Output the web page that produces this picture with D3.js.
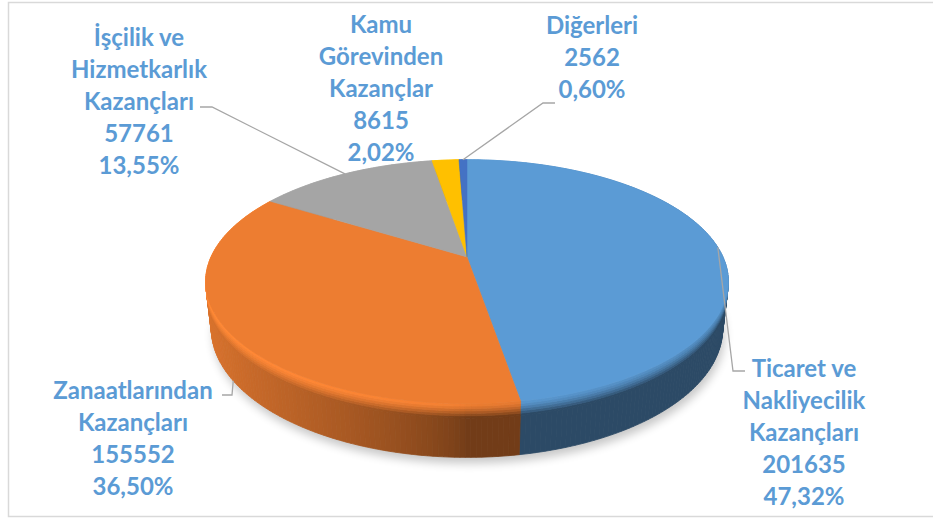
<!DOCTYPE html>
<html>
<head>
<meta charset="utf-8">
<script src="https://cdn.jsdelivr.net/npm/d3@7"></script>
<style>
  html, body { margin: 0; padding: 0; background: #fff; }
  svg { display: block; }
</style>
</head>
<body>
<div id="chart"></div>
<script>
// Chart data
var categoryLines = [
  ["Ticaret ve", "Nakliyecilik", "Kazançları"],
  ["Zanaatlarından", "Kazançları"],
  ["İşçilik ve", "Hizmetkarlık", "Kazançları"],
  ["Kamu", "Görevinden", "Kazançlar"],
  ["Diğerleri"]
];
var values = [201635, 155552, 57761, 8615, 2562];
var percentLabels = ["47,32%", "36,50%", "13,55%", "2,02%", "0,60%"];
var colors = ["#5B9BD5", "#ED7D31", "#A5A5A5", "#FFC000", "#4472C4"];

// Label placement (x = centre of text block, y = centre of first line)
var labelLayout = [
  { x: 804, y: 368, elbow: [733, 371], end: [745, 371] },
  { x: 133, y: 390, elbow: [232, 395], end: [222, 395] },
  { x: 139, y: 37, elbow: [212, 107], end: [200, 107] },
  { x: 381, y: 24, elbow: null, end: null },
  { x: 592, y: 25, elbow: [543, 103], end: [555, 103] }
];

var width = 933, height = 523;

// 3D view settings
var cx = 467, cy = 257;      // screen position of the pie centre
var R = 256;                 // pie radius
var thick = 53;              // pie thickness
var bevel = 14;              // soft bevel band at top of the side wall
var bevelSteps = 6;
var sinE = 0.457, cosE = Math.sqrt(1 - sinE * sinE);
var camDist = 1125;

// angle a: clockwise from the far side, r: radius, yw: height (0 = top face)
function project(a, r, yw) {
  var X = r * Math.sin(a), Z = r * Math.cos(a);
  var up = yw * cosE + Z * sinE;
  var dz = Z * cosE - yw * sinE;
  var f = camDist / (camDist + dz);
  return [cx + X * f, cy - up * f, dz];
}

function scaleColor(col, k) {
  var c = d3.rgb(col);
  return d3.rgb(Math.min(255, c.r * k), Math.min(255, c.g * k), Math.min(255, c.b * k)).formatHex();
}
// brightness of the outer wall, light coming from the left
function wallFactor(a) {
  var l = Math.max(0, -Math.sin(a));
  return 0.48 + 0.45 * Math.pow(l, 0.7);
}
function bevelFactor(a) {
  var s = Math.sin(a);
  return s < 0 ? 1 + 0.1 * Math.sqrt(-s) : 1 - 0.12 * Math.pow(s, 0.7);
}

var svg = d3.select("#chart")
  .append("svg")
  .attr("width", width)
  .attr("height", height);

// chart border
svg.append("rect")
  .attr("x", 8.5)
  .attr("y", 2.5)
  .attr("width", 940)
  .attr("height", 514)
  .attr("fill", "#fff")
  .attr("stroke", "#D9D9D9")
  .attr("stroke-width", 1.5);

var defs = svg.append("defs");
defs.append("filter")
  .attr("id", "shadowBlur")
  .attr("x", "-20%").attr("y", "-20%")
  .attr("width", "140%").attr("height", "140%")
  .append("feGaussianBlur")
  .attr("stdDeviation", 5);

var pie = d3.pie().sort(null).value(function (d) { return d; });
var slices = pie(values);

var line = d3.line();
var step = Math.PI / 360;

function arcPoints(a0, a1, r, yw) {
  var n = Math.max(2, Math.ceil((a1 - a0) / step));
  return d3.range(n + 1).map(function (i) {
    var p = project(a0 + (a1 - a0) * i / n, r, yw);
    return [p[0], p[1]];
  });
}

// soft shadow under the pie
svg.append("path")
  .attr("d", line(arcPoints(0, 2 * Math.PI, R, -thick)) + "Z")
  .attr("transform", "translate(2,6)")
  .attr("fill", "#000")
  .attr("opacity", 0.22)
  .attr("filter", "url(#shadowBlur)");

// side walls, built from thin quads sorted far to near
var quads = [];
slices.forEach(function (d, i) {
  var n = Math.max(1, Math.ceil((d.endAngle - d.startAngle) / (Math.PI / 180)));
  for (var k = 0; k < n; k++) {
    var a0 = d.startAngle + (d.endAngle - d.startAngle) * k / n;
    var a1 = d.startAngle + (d.endAngle - d.startAngle) * (k + 1) / n;
    var am = (a0 + a1) / 2;
    var wallCol = scaleColor(colors[i], wallFactor(am));
    var bevCol = scaleColor(colors[i], bevelFactor(am));
    var mix = d3.interpolateRgb(bevCol, wallCol);
    var bands = d3.range(bevelSteps).map(function (j) {
      var t = j / (bevelSteps - 1);
      return [-bevel * j / bevelSteps, -bevel * (j + 1) / bevelSteps, mix(Math.pow(t, 1.3))];
    });
    bands.push([-bevel, -thick, wallCol]);
    bands.forEach(function (b) {
      var p1 = project(a0, R, b[0]), p2 = project(a1, R, b[0]);
      var p3 = project(a1, R, b[1]), p4 = project(a0, R, b[1]);
      quads.push({
        pts: [p1, p2, p3, p4].map(function (p) { return [p[0], p[1]]; }),
        z: project(am, R, (b[0] + b[1]) / 2)[2],
        color: b[2]
      });
    });
  }
});
quads.sort(function (a, b) { return b.z - a.z; });

svg.append("g")
  .selectAll("path")
  .data(quads)
  .enter()
  .append("path")
  .attr("d", function (q) { return line(q.pts) + "Z"; })
  .attr("fill", function (q) { return q.color; })
  .attr("stroke", function (q) { return q.color; })
  .attr("stroke-width", 0.8)
  .attr("stroke-linejoin", "round");

// top faces
var centre = project(0, 0, 0);
svg.append("g")
  .selectAll("path")
  .data(slices)
  .enter()
  .append("path")
  .attr("d", function (d) {
    var pts = [[centre[0], centre[1]]].concat(arcPoints(d.startAngle, d.endAngle, R, 0));
    return line(pts) + "Z";
  })
  .attr("fill", function (d, i) { return colors[i]; })
  .attr("stroke", function (d, i) { return colors[i]; })
  .attr("stroke-width", 0.5);

// leader lines
svg.append("g")
  .selectAll("polyline")
  .data(slices.filter(function (d, i) { return labelLayout[i].elbow; }))
  .enter()
  .append("polyline")
  .attr("points", function (d) {
    var lay = labelLayout[d.index];
    var mid = (d.startAngle + d.endAngle) / 2;
    var p = Math.cos(mid) >= 0 ? project(mid, R, 0) : project(mid, R, -thick);
    return [[p[0], p[1]], lay.elbow, lay.end].join(" ");
  })
  .attr("fill", "none")
  .attr("stroke", "#A6A6A6")
  .attr("stroke-width", 1.3);

// data labels
var labels = svg.append("g")
  .selectAll("text")
  .data(slices)
  .enter()
  .append("text")
  .attr("text-anchor", "middle")
  .style("font-family", "Lato, 'Open Sans', sans-serif")
  .style("font-weight", "bold")
  .style("font-size", "24px")
  .attr("fill", "#5B9BD5");

labels.each(function (d, i) {
  var lay = labelLayout[i];
  var lines = categoryLines[i].concat([String(values[i]), percentLabels[i]]);
  d3.select(this)
    .selectAll("tspan")
    .data(lines)
    .enter()
    .append("tspan")
    .attr("x", lay.x)
    .attr("y", function (t, j) { return lay.y + 8.5 + j * 32; })
    .text(function (t) { return t; });
});
</script>
</body>
</html>
